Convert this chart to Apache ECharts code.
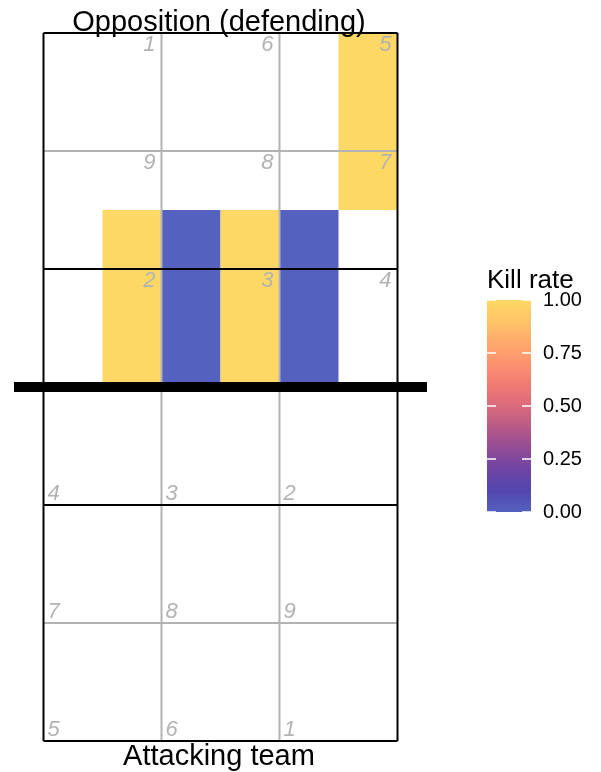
<!DOCTYPE html>
<html>
<head>
<meta charset="utf-8">
<script src="https://cdn.jsdelivr.net/npm/echarts@6/dist/echarts.min.js"></script>
<style>
html,body{margin:0;padding:0;background:#fff;}
#chart{width:601px;height:772px;}
</style>
</head>
<body>
<div id="chart"></div>
<script>
// ---- data ----
var tileX = [1.25, 1.75, 2.25, 2.75, 3.25];
var tileY = [4.25, 4.25, 4.25, 4.25, 5.75];
var killRate = [1, 0, 1, 0, 1];

// zone numbers, rows listed from the far baseline toward the net
var oppZones = [[1, 6, 5], [9, 8, 7], [2, 3, 4]];
// zone numbers, rows listed from the net toward the near baseline
var attZones = [[4, 3, 2], [7, 8, 9], [5, 6, 1]];

var legendTicks = [0, 0.25, 0.5, 0.75, 1];
var titleTop = 'Opposition (defending)';
var titleBottom = 'Attacking team';
var legendTitle = 'Kill rate';

// court geometry (data units)
var grayLines = [[1.5, 0.5, 1.5, 6.5], [2.5, 0.5, 2.5, 6.5], [0.5, 1.5, 3.5, 1.5], [0.5, 5.5, 3.5, 5.5]];
var blackLines = [[0.5, 0.5, 3.5, 0.5], [0.5, 6.5, 3.5, 6.5], [0.5, 0.5, 0.5, 6.5], [3.5, 0.5, 3.5, 6.5], [0.5, 2.5, 3.5, 2.5], [0.5, 4.5, 3.5, 4.5]];
var netLine = [[0.25, 3.5, 3.75, 3.5]];

// ---- build ----
var FONT = 'Liberation Sans, Arial, Helvetica, sans-serif';
var TILE_W = 0.5, TILE_H = 1.5;
var PALETTE = ['#5461BF', '#5346AE', '#6E44A4', '#924C96', '#B85A88', '#DB6A7C',
               '#F07A74', '#FC9270', '#FEAA6C', '#FEC468', '#FDD865'];

var tileData = tileX.map(function (x, i) { return [x, tileY[i], killRate[i]]; });

var oppLabelData = [];
oppZones.forEach(function (row, r) {
  row.forEach(function (z, c) { oppLabelData.push([1.5 + c, 6.5 - r, z]); });
});
var attLabelData = [];
attZones.forEach(function (row, r) {
  row.forEach(function (z, c) { attLabelData.push([0.5 + c, 2.5 - r, z]); });
});

function lineSeries(data, color, width, z) {
  return {
    type: 'custom', xAxisIndex: 0, yAxisIndex: 0, z: z, silent: true,
    encode: { x: [0, 2], y: [1, 3] },
    data: data,
    renderItem: function (params, api) {
      var p1 = api.coord([api.value(0), api.value(1)]);
      var p2 = api.coord([api.value(2), api.value(3)]);
      return {
        type: 'line',
        shape: { x1: p1[0], y1: p1[1], x2: p2[0], y2: p2[1] },
        style: { stroke: color, lineWidth: width, lineCap: 'butt' }
      };
    }
  };
}

function labelSeries(data, align, vAlign, dx, dy) {
  return {
    type: 'custom', xAxisIndex: 0, yAxisIndex: 0, z: 20, silent: true,
    encode: { x: 0, y: 1 },
    data: data,
    renderItem: function (params, api) {
      var p = api.coord([api.value(0), api.value(1)]);
      return {
        type: 'text',
        style: {
          x: p[0] + dx, y: p[1] + dy,
          text: String(api.value(2)),
          align: align, verticalAlign: vAlign,
          fill: '#b3b3b3', fontSize: 22, fontStyle: 'italic', fontFamily: FONT,
          lineHeight: 22
        }
      };
    }
  };
}

var chart = echarts.init(document.getElementById('chart'), null, { renderer: 'canvas' });

var option = {
  backgroundColor: '#ffffff',
  animation: false,
  title: [
    { text: titleTop, left: 219, top: 8, textAlign: 'center', padding: 0,
      textStyle: { fontSize: 29, fontWeight: 'normal', color: '#000', fontFamily: FONT, lineHeight: 29 } },
    { text: titleBottom, left: 219, top: 742, textAlign: 'center', padding: 0,
      textStyle: { fontSize: 29, fontWeight: 'normal', color: '#000', fontFamily: FONT, lineHeight: 29 } },
    { text: legendTitle, left: 487, top: 268, padding: 0,
      textStyle: { fontSize: 26, fontWeight: 'normal', color: '#000', fontFamily: FONT, lineHeight: 26 } }
  ],
  grid: [
    { left: 14, width: 413, top: 33, height: 708 },
    { left: 487, width: 44, top: 300, height: 212 }
  ],
  xAxis: [
    { type: 'value', min: 0.25, max: 3.75, show: false, gridIndex: 0 },
    { type: 'value', min: 0, max: 1, show: false, gridIndex: 1 }
  ],
  yAxis: [
    { type: 'value', min: 0.5, max: 6.5, show: false, gridIndex: 0 },
    { type: 'value', min: 0, max: 1, interval: 0.25, gridIndex: 1, position: 'right',
      axisLine: { show: false }, splitLine: { show: false }, axisTick: { show: false },
      axisLabel: { show: true, margin: 12, fontSize: 20, color: '#000', fontFamily: FONT,
        formatter: function (v) { return v.toFixed(2); } } }
  ],
  visualMap: {
    type: 'continuous', show: false,
    min: 0, max: 1, dimension: 2, seriesIndex: 0,
    inRange: { color: PALETTE }
  },
  series: [
    {
      type: 'custom', xAxisIndex: 0, yAxisIndex: 0, z: 1, silent: true,
      encode: { x: 0, y: 1 },
      data: tileData,
      renderItem: function (params, api) {
        var x = api.value(0), y = api.value(1);
        var p1 = api.coord([x - TILE_W / 2, y + TILE_H / 2]);
        var p2 = api.coord([x + TILE_W / 2, y - TILE_H / 2]);
        return {
          type: 'rect',
          shape: { x: p1[0], y: p1[1], width: p2[0] - p1[0], height: p2[1] - p1[1] },
          style: { fill: api.visual('color') }
        };
      }
    },
    lineSeries(grayLines, '#b3b3b3', 2, 5),
    lineSeries(blackLines, '#000000', 2, 6),
    lineSeries(netLine, '#000000', 10, 7),
    labelSeries(oppLabelData, 'right', 'top', -6, 1),
    labelSeries(attLabelData, 'left', 'bottom', 4, 0),
    // colour bar
    {
      type: 'custom', xAxisIndex: 1, yAxisIndex: 1, z: 1, silent: true,
      encode: { x: 0, y: 1 },
      data: [[0, 0, 1, 1]],
      renderItem: function (params, api) {
        var p1 = api.coord([api.value(0), api.value(3)]);
        var p2 = api.coord([api.value(2), api.value(1)]);
        return {
          type: 'rect',
          shape: { x: p1[0], y: p1[1], width: p2[0] - p1[0], height: p2[1] - p1[1] },
          style: { fill: new echarts.graphic.LinearGradient(0, 1, 0, 0, PALETTE.map(function (c, i) {
            return { offset: i / (PALETTE.length - 1), color: c };
          })) }
        };
      }
    },
    // colour bar ticks
    {
      type: 'custom', xAxisIndex: 1, yAxisIndex: 1, z: 2, silent: true,
      encode: { y: 0 },
      data: legendTicks.map(function (t) { return [t]; }),
      renderItem: function (params, api) {
        var l = api.coord([0, api.value(0)]);
        var r = api.coord([1, api.value(0)]);
        var len = 9;
        return {
          type: 'group',
          children: [
            { type: 'line', shape: { x1: l[0], y1: l[1], x2: l[0] + len, y2: l[1] },
              style: { stroke: '#ffffff', lineWidth: 1.5 } },
            { type: 'line', shape: { x1: r[0] - len, y1: r[1], x2: r[0], y2: r[1] },
              style: { stroke: '#ffffff', lineWidth: 1.5 } }
          ]
        };
      }
    }
  ]
};
chart.setOption(option);
</script>
</body>
</html>
